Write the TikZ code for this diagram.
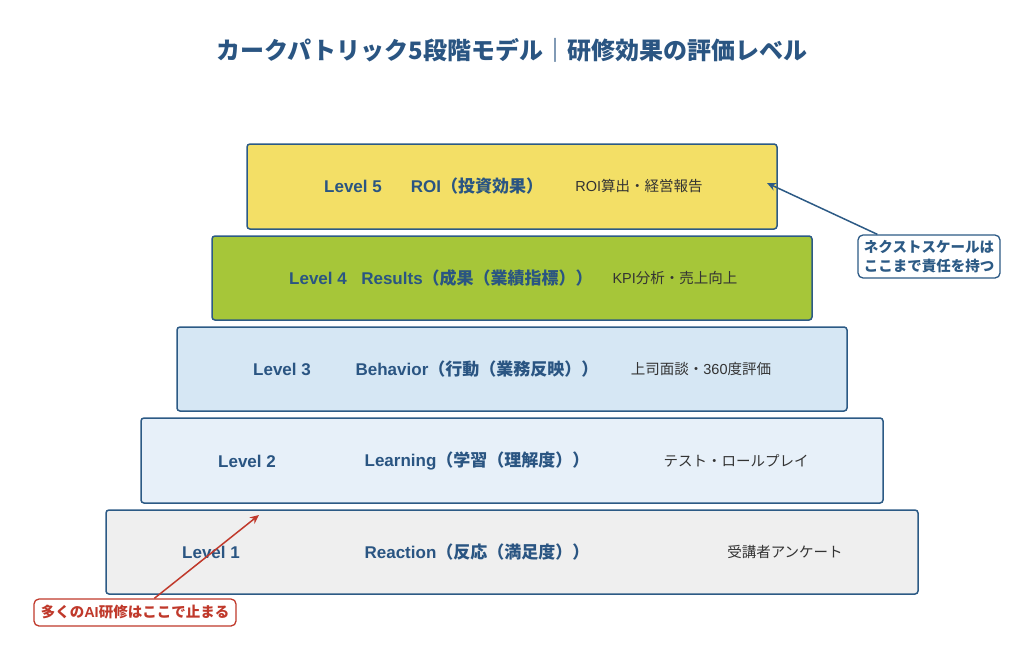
\documentclass[tikz,border=0pt]{standalone}
\usepackage{fontspec}
\setmainfont{Noto Sans CJK JP}
\newfontfamily\latf{Liberation Sans}
\usetikzlibrary{arrows.meta}
\definecolor{navy}{HTML}{2C5A85}
\definecolor{tnavy}{HTML}{2A5582}
\definecolor{cfive}{HTML}{F3DF66}
\definecolor{cfour}{HTML}{A6C639}
\definecolor{cthree}{HTML}{D6E7F4}
\definecolor{ctwo}{HTML}{E7F0F9}
\definecolor{cone}{HTML}{EFEFEF}
\definecolor{redc}{HTML}{C0392B}
\definecolor{darkt}{HTML}{333333}
\newcommand{\latb}[1]{{\latf\bfseries #1}}
\newcommand{\latn}[1]{{\latf #1}}
\tikzset{
  lvbox/.style={draw=navy, line width=1.5pt, rounded corners=3pt},
  btxt/.style={text=tnavy, font=\fontsize{17}{19}\selectfont\bfseries, inner sep=0pt},
  stxt/.style={text=darkt, font=\fontsize{14.5}{16}\selectfont, inner sep=0pt},
  callout/.style={draw=#1, line width=1.3pt, rounded corners=5pt, fill=white, text=#1, font=\fontsize{14.5}{19}\selectfont\bfseries, align=center, inner sep=4pt},
  carrow/.style={draw=#1, line width=1.5pt, -{Stealth[length=9pt,width=8pt]}}
}
\begin{document}
\begin{tikzpicture}[x=1pt,y=-1pt]
\useasboundingbox (0,0) rectangle (1024,653);
\node[text=tnavy, font=\fontsize{24}{28}\selectfont\bfseries, inner sep=0pt] (title) at (512,50) {カークパトリック5段階モデル｜研修効果の評価レベル};
% boxes
\draw[lvbox, fill=cone] (106,510) rectangle (918,594);
\draw[lvbox, fill=ctwo] (141,418) rectangle (883,503);
\draw[lvbox, fill=cthree] (177,327) rectangle (847,411);
\draw[lvbox, fill=cfour] (212,236) rectangle (812,320);
\draw[lvbox, fill=cfive] (247,144) rectangle (777,229);
% texts L5
\node[btxt] (l5a) at (353,186) {\latb{Level 5}};
\node[btxt] (l5b) at (477,186) {\latb{ROI}（投資効果）};
\node[stxt] (l5c) at (639,186) {\latn{ROI}算出・経営報告};
% L4
\node[btxt] (l4a) at (318,278) {\latb{Level 4}};
\node[btxt] (l4b) at (477,278) {\latb{Results}（成果（業績指標））};
\node[stxt] (l4c) at (675,278) {\latn{KPI}分析・売上向上};
% L3
\node[btxt] (l3a) at (282,369) {\latb{Level 3}};
\node[btxt] (l3b) at (477,369) {\latb{Behavior}（行動（業務反映））};
\node[stxt] (l3c) at (701,369) {上司面談・\latn{360}度評価};
% L2
\node[btxt] (l2a) at (247,461) {\latb{Level 2}};
\node[btxt] (l2b) at (477,461) {\latb{Learning}（学習（理解度））};
\node[stxt] (l2c) at (736,461) {テスト・ロールプレイ};
% L1
\node[btxt] (l1a) at (211,552) {\latb{Level 1}};
\node[btxt] (l1b) at (477,552) {\latb{Reaction}（反応（満足度））};
\node[stxt] (l1c) at (785,552) {受講者アンケート};
% callouts
\node[callout=navy, minimum width=142pt, minimum height=43pt] (cr) at (929,256.5) {ネクストスケールは\\ここまで責任を持つ};
\coordinate (tr) at (767,183);
\draw[carrow=navy] (cr.north west) ++(20,0) coordinate (crs) -- (tr);
\node[callout=redc, minimum width=202pt, minimum height=27pt] (cl) at (135,612.5) {多くの\latb{AI}研修はここで止まる};
\coordinate (tl) at (259,515);
\draw[carrow=redc] (cl.north west) ++(121,0) -- (tl);
\end{tikzpicture}
\end{document}
